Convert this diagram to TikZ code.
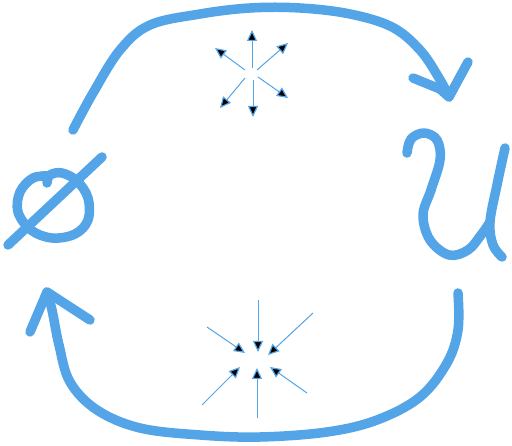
\documentclass[tikz,border=0pt]{standalone}
\usetikzlibrary{arrows.meta}
\definecolor{skyblue}{RGB}{84,164,232}
\tikzset{
  thick stroke/.style={draw=skyblue, line width=9.5pt, line cap=round, line join=round},
  ray/.style={draw=skyblue, line width=1pt, -{Triangle[length=11pt,width=10pt,fill=black,line width=1.2pt]}},
}
\begin{document}
\begin{tikzpicture}[x=1pt,y=-1pt]
\useasboundingbox (0,0) rectangle (512,446);
% named coordinates
\coordinate (phi) at (52,205);
\coordinate (U) at (455,195);
\coordinate (topstar) at (252,73);
\coordinate (botstar) at (257,360);
% top arc with arrow head
\draw[thick stroke] plot[smooth, tension=0.6] coordinates {(73,130) (93,93) (120,50) (150,25) (200,14) (250,8) (300,8) (350,14) (392,27) (420,50) (439,78) (449,97)};
\draw[thick stroke] (413,78) -- (440,89) -- (449,97) -- (468,62);
% bottom arc with arrow head
\draw[thick stroke] plot[smooth, tension=0.6] coordinates {(458,293) (458,330) (447,363) (420,397) (377,420) (327,432) (260,437) (200,435) (140,428) (97,410) (70,382) (59,345) (52,310) (47,292)};
\draw[thick stroke] (30,332) -- (47,292) -- (90,320);
% empty set
\draw[thick stroke] plot[smooth, tension=0.6] coordinates {(47,183) (50,175) (62,173) (77,181) (88,198) (88,220) (75,234) (52,238) (31,230) (18,212) (20,192) (33,178) (49,176)};
\draw[thick stroke] (102,157) -- (8,245);
% U
\draw[thick stroke] plot[smooth, tension=0.6] coordinates {(407,153) (411,139) (424,133) (437,140) (440,160) (431,190) (423,215) (430,240) (449,255) (468,250) (481,235) (490,222)};
\draw[thick stroke] plot[smooth, tension=0.6] coordinates {(505,148) (497,185) (490,222) (493,245) (502,257)};
% top star (outward rays)
\coordinate (t1s) at (252,68); \coordinate (t1e) at (252,30);
\coordinate (t2s) at (257,70); \coordinate (t2e) at (288,43);
\coordinate (t3s) at (258,77); \coordinate (t3e) at (288,98);
\coordinate (t4s) at (253,80); \coordinate (t4e) at (253,117);
\coordinate (t5s) at (245,78); \coordinate (t5e) at (220,108);
\coordinate (t6s) at (245,70); \coordinate (t6e) at (215,48);
\foreach \i in {1,...,6} \draw[ray] (t\i s) -- (t\i e);
% bottom star (inward rays)
\coordinate (b1s) at (258,300); \coordinate (b1e) at (258,352);
\coordinate (b2s) at (313,313); \coordinate (b2e) at (268,355);
\coordinate (b3s) at (207,327); \coordinate (b3e) at (245,353);
\coordinate (b4s) at (202,405); \coordinate (b4e) at (240,367);
\coordinate (b5s) at (257,418); \coordinate (b5e) at (257,368);
\coordinate (b6s) at (307,393); \coordinate (b6e) at (270,367);
\foreach \i in {1,...,6} \draw[ray] (b\i s) -- (b\i e);
\end{tikzpicture}
\end{document}
